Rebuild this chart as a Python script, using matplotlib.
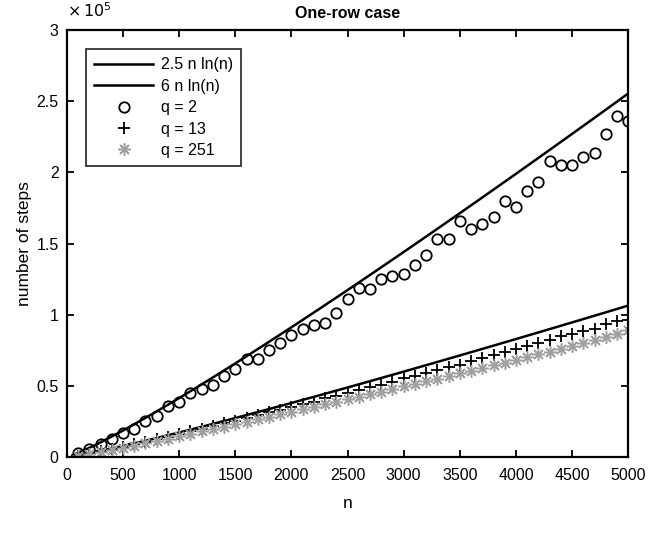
import numpy as np
import matplotlib
matplotlib.use("Agg")
import matplotlib.pyplot as plt
from matplotlib.ticker import FuncFormatter, MultipleLocator

# ======================
# Data
# ======================
line_n = [50, 250, 500, 750, 1000, 1250, 1500, 1750, 2000, 2250, 2500,
          2750, 3000, 3250, 3500, 3750, 4000, 4250, 4500, 4750, 5000]
line_low = [489, 3451, 7769, 12413, 17270, 22283, 27425, 32668, 38005, 43418, 48900,
            54445, 60048, 65700, 71408, 77158, 82940, 88775, 94636, 100533, 106465]
line_high = [1174, 8282, 18646, 29790, 41447, 53478, 65819, 78402, 91211, 104202, 117361,
             130668, 144114, 157680, 171379, 185178, 199056, 213060, 227125, 241278, 255516]

n_vals = list(range(100, 5001, 100))

steps_q2 = [3000, 6000, 9000, 13000, 17000, 20000, 25000, 29000, 36000, 39000,
            45000, 48000, 51000, 57000, 62000, 69000, 69000, 75000, 80000, 86000,
            90000, 93000, 94000, 101000, 111000, 119000, 118000, 125000, 127000, 129000,
            135000, 142000, 153000, 153000, 166000, 160000, 164000, 169000, 180000, 176000,
            187000, 193000, 208000, 205000, 205000, 211000, 214000, 227000, 240000, 236000]

steps_q13 = [1100, 2500, 4000, 5600, 7300, 9000, 10800, 12600, 14300, 16200,
             18000, 19800, 21700, 23700, 25600, 27500, 29300, 31500, 33400, 35300,
             37200, 39000, 41200, 43000, 45200, 46800, 49200, 50800, 53000, 55300,
             56800, 59400, 61000, 63600, 65000, 67800, 69500, 71800, 73500, 76000,
             78000, 80200, 82000, 84800, 86300, 88700, 90000, 93200, 95500, 96500]

steps_q251 = [900, 2100, 3500, 5000, 6500, 8000, 9700, 11300, 13000, 14600,
              16300, 18000, 19500, 21300, 23000, 24800, 26500, 28200, 30000, 31800,
              33500, 35300, 37000, 38900, 40600, 42400, 44300, 46000, 47800, 49600,
              51300, 53400, 55000, 57000, 58800, 60800, 62500, 64600, 66300, 68500,
              70200, 72400, 74000, 76200, 78000, 80200, 82000, 84300, 86500, 89000]

# ======================
# Plot
# ======================
plt.rcParams["font.family"] = ["Liberation Sans", "DejaVu Sans"]

fig = plt.figure(figsize=(6.62, 5.39), dpi=100)
ax = fig.add_axes([0.101, 0.152, 0.848, 0.792])

ax.plot(line_n, line_low, color="black", lw=1.8, label="2.5 n ln(n)")
ax.plot(line_n, line_high, color="black", lw=1.8, label="6 n ln(n)")
ax.plot(n_vals, steps_q2, "o", ms=7.5, mfc="none", mec="black", mew=1.3, label="q = 2")
ax.plot(n_vals, steps_q13, "+", ms=9, color="black", mew=1.3, label="q = 13")
ax.plot(n_vals, steps_q251, marker=(8, 2, 0), ls="none", ms=9, color="#a0a0a0",
        mew=1.1, label="q = 251")

ax.set_xlim(0, 5000)
ax.set_ylim(0, 300000)
ax.xaxis.set_major_locator(MultipleLocator(500))
ax.yaxis.set_major_locator(MultipleLocator(50000))
ax.yaxis.set_major_formatter(FuncFormatter(lambda v, p: "%g" % (v / 1e5)))
ax.tick_params(direction="in", top=True, right=True, labelsize=11.5, length=5,
               width=1.3)
ax.tick_params(axis="x", pad=8)
ax.tick_params(axis="y", pad=6)
for s in ax.spines.values():
    s.set_linewidth(1.6)

ax.text(0.0, 1.025, r"$\times\,10^5$", transform=ax.transAxes, fontsize=11.5,
        ha="left", va="bottom")
ax.set_title("One-row case", fontsize=11.5, fontweight="bold", pad=9)
ax.set_xlabel("n", fontsize=12.5, labelpad=9)
ax.set_ylabel("number of steps", fontsize=12.5, labelpad=3)

leg = ax.legend(loc="upper left", fontsize=11.5, frameon=True, fancybox=False,
                edgecolor="black", borderaxespad=1.2, handlelength=3.7,
                handletextpad=0.5, labelspacing=0.4, borderpad=0.5)
leg.get_frame().set_linewidth(1.3)

fig.savefig("out.png", dpi=100)
